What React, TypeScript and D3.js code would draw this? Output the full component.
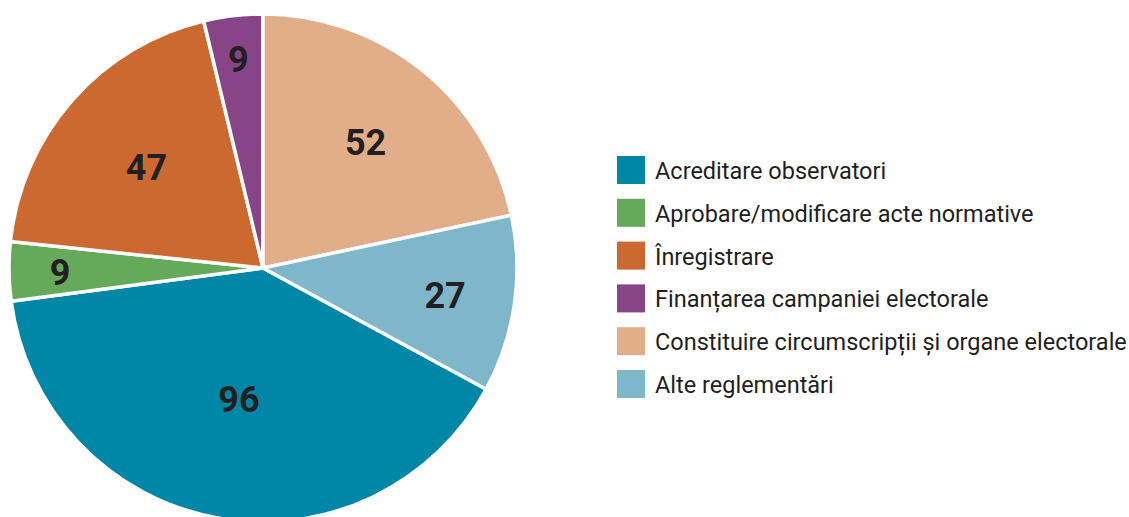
import React from 'react'
import * as d3 from 'd3'

// categories in legend order
const CATEGORIES = [
  'Acreditare observatori',
  'Aprobare/modificare acte normative',
  'Înregistrare',
  'Finanțarea campaniei electorale',
  'Constituire circumscripții și organe electorale',
  'Alte reglementări'
]
const VALUES = [96, 9, 47, 9, 52, 27]
const COLORS = ['#0087a7', '#66a95b', '#cb6930', '#874486', '#e2ae89', '#7eb6ca']

// label distance from centre (px), like the "best fit" placement of the original
const LABEL_R = [132, 203, 155, 211, 163, 184]

const W = 1129
const H = 517
const CX = 263
const CY = 268
const R = 254

const App: React.FC = () => {
  const total = d3.sum(VALUES)
  // the first slice starts where the last two end (pie begins at 12 o'clock with "Constituire")
  const offset = ((VALUES[4] + VALUES[5]) / total) * 2 * Math.PI

  const pie = d3.pie<number>()
    .sort(null)
    .value(d => d)
    .startAngle(offset)
    .endAngle(offset + 2 * Math.PI)

  const arcs = pie(VALUES)
  const arc = d3.arc<d3.PieArcDatum<number>>().innerRadius(0).outerRadius(R)

  const legendY = d3.scaleLinear().domain([0, 1]).range([170, 212.8])

  return (
    <svg width={W} height={H} style={{ position: 'absolute', left: 0, top: 0 }}
      fontFamily="Roboto, 'DejaVu Sans', sans-serif">
      <rect width={W} height={H} fill="#fff" />
      <g transform={`translate(${CX},${CY})`}>
        {arcs.map((a, i) => (
          <path key={i} d={arc(a) || ''} fill={COLORS[i]} stroke="#fff" strokeWidth={3.5}
            strokeLinejoin="round" />
        ))}
        {arcs.map((a, i) => {
          const mid = (a.startAngle + a.endAngle) / 2
          const x = LABEL_R[i] * Math.sin(mid)
          const y = -LABEL_R[i] * Math.cos(mid)
          return (
            <text key={i} x={x} y={y + 2} textAnchor="middle" dominantBaseline="central"
              fontSize={36} fontWeight={700} fill="#231f20">
              {VALUES[i]}
            </text>
          )
        })}
      </g>
      <g>
        {CATEGORIES.map((c, i) => (
          <g key={c} transform={`translate(617,${legendY(i)})`}>
            <rect x={0} y={-14} width={28} height={28} fill={COLORS[i]} />
            <text x={38} y={1} dominantBaseline="central" fontSize={23.5} fill="#231f20">
              {c}
            </text>
          </g>
        ))}
      </g>
    </svg>
  )
}

export default App
